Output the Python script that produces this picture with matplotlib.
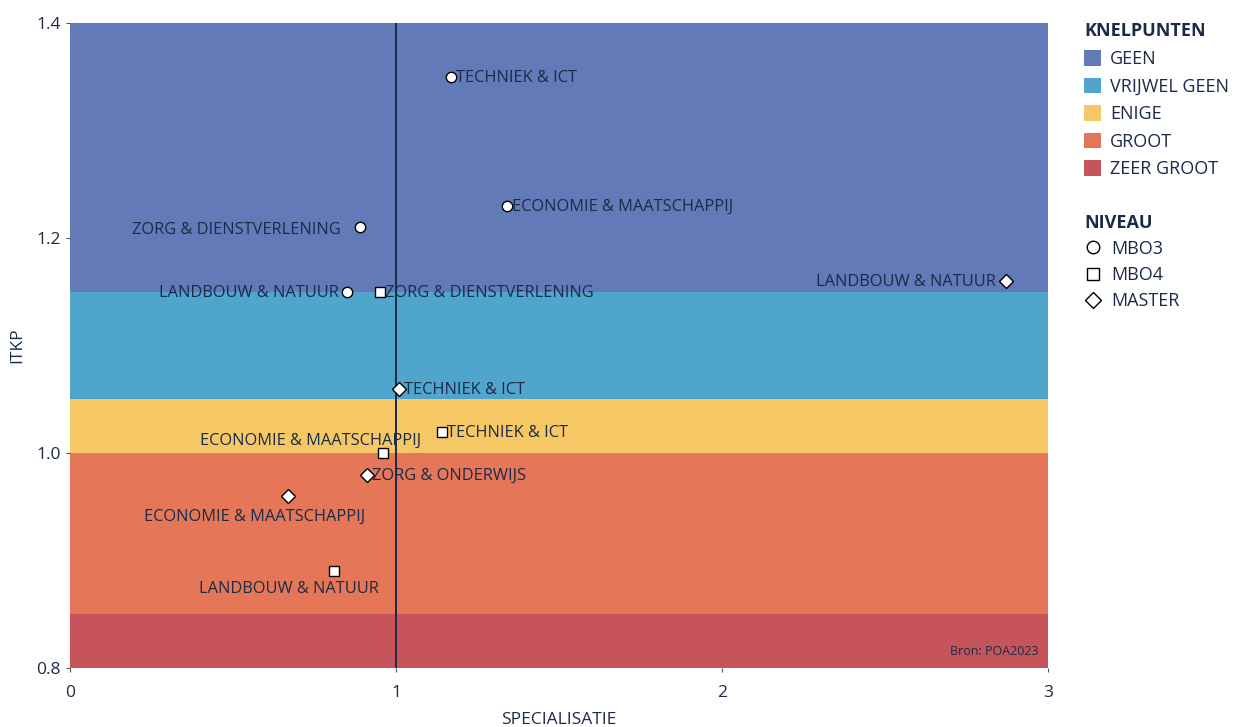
import matplotlib
matplotlib.use("Agg")
import matplotlib.pyplot as plt
from matplotlib.patches import Patch
from matplotlib.lines import Line2D

plt.rcParams["font.family"] = ["Open Sans", "DejaVu Sans"]

NAVY = "#1b2a47"

# knelpunten bands (ITKP ranges)
band_names = ["GEEN", "VRIJWEL GEEN", "ENIGE", "GROOT", "ZEER GROOT"]
band_low = [1.15, 1.05, 1.00, 0.85, 0.80]
band_high = [1.40, 1.15, 1.05, 1.00, 0.85]
band_colors = ["#627bb8", "#4fa5cb", "#f6c865", "#e57758", "#c6545a"]

# points
levels = ["MBO3", "MBO4", "MASTER"]
level_markers = {"MBO3": "o", "MBO4": "s", "MASTER": "D"}

mbo3_labels = ["TECHNIEK & ICT", "ECONOMIE & MAATSCHAPPIJ", "ZORG & DIENSTVERLENING", "LANDBOUW & NATUUR"]
mbo3_x = [1.17, 1.34, 0.89, 0.85]
mbo3_y = [1.35, 1.23, 1.21, 1.15]

mbo4_labels = ["ZORG & DIENSTVERLENING", "ECONOMIE & MAATSCHAPPIJ", "TECHNIEK & ICT", "LANDBOUW & NATUUR"]
mbo4_x = [0.95, 0.96, 1.14, 0.81]
mbo4_y = [1.15, 1.00, 1.02, 0.89]

master_labels = ["LANDBOUW & NATUUR", "TECHNIEK & ICT", "ZORG & ONDERWIJS", "ECONOMIE & MAATSCHAPPIJ"]
master_x = [2.87, 1.01, 0.91, 0.67]
master_y = [1.16, 1.06, 0.98, 0.96]

# label placement: (dx px, dy px, ha)
place = {
    "MBO3": [(5, -1, "left"), (5, -1, "left"), (-19, -3, "right"), (-8, -1, "right")],
    "MBO4": [(5, -1, "left"), (38, 12, "right"), (5, -1, "left"), (-45, -18, "center")],
    "MASTER": [(-10, -1, "right"), (5, -1, "left"), (5, -1, "left"), (-34, -21, "center")],
}

series = {
    "MBO3": (mbo3_x, mbo3_y, mbo3_labels),
    "MBO4": (mbo4_x, mbo4_y, mbo4_labels),
    "MASTER": (master_x, master_y, master_labels),
}
marker_sizes = {"MBO3": 7.5, "MBO4": 6.5, "MASTER": 7}

fig = plt.figure(figsize=(12.35, 7.27), dpi=100)
ax = fig.add_axes([0.0567, 0.0812, 0.792, 0.887])

for lo, hi, c in zip(band_low, band_high, band_colors):
    ax.axhspan(lo, hi, color=c, lw=0, zorder=0)

ax.axvline(1, color=NAVY, lw=1.4, zorder=1)

for lvl in levels:
    xs, ys, labs = series[lvl]
    ax.plot(xs, ys, ls="none", marker=level_markers[lvl], ms=marker_sizes[lvl],
            mfc="white", mec="black", mew=1, zorder=3)
    for (x, y, lab), (dx, dy, ha) in zip(zip(xs, ys, labs), place[lvl]):
        ax.annotate(lab, (x, y), xytext=(dx * 0.72, dy * 0.72), textcoords="offset points",
                    ha=ha, va="center", fontsize=11.8, color=NAVY, zorder=4)

ax.text(0.99, 0.015, "Bron: POA2023", transform=ax.transAxes, ha="right", va="bottom",
        fontsize=9, color=NAVY)

ax.set_xlim(0, 3)
ax.set_ylim(0.8, 1.4)
ax.set_xticks([0, 1, 2, 3])
ax.set_yticks([0.8, 1.0, 1.2, 1.4])
ax.set_yticklabels(["0.8", "1.0", "1.2", "1.4"])
for s in ax.spines.values():
    s.set_visible(False)
ax.tick_params(colors="#555555", labelcolor=NAVY, labelsize=12.5, length=3, width=0.8)
ax.tick_params(axis="x", pad=9)
ax.set_xlabel("SPECIALISATIE", fontsize=12.5, color=NAVY, labelpad=8)
ax.set_ylabel("ITKP", fontsize=12.5, color=NAVY, labelpad=8)

band_handles = [Patch(facecolor=c, edgecolor="none") for c in band_colors]
leg1 = fig.legend(band_handles, band_names, title="KNELPUNTEN", loc="upper left",
                  bbox_to_anchor=(0.872, 0.979), frameon=False, fontsize=13,
                  handlelength=0.95, handleheight=0.95, handletextpad=0.5,
                  labelspacing=0.53, borderaxespad=0, alignment="left",
                  title_fontproperties={"weight": "bold", "size": 13})
for t in leg1.get_texts():
    t.set_color(NAVY)
leg1.get_title().set_color(NAVY)

lvl_handles = [Line2D([], [], ls="none", marker=level_markers[l], ms=9 if l != "MASTER" else 8,
                      mfc="white", mec="black", mew=1) for l in levels]
leg2 = fig.legend(lvl_handles, levels, title="NIVEAU", loc="upper left",
                  bbox_to_anchor=(0.872, 0.716), frameon=False, fontsize=13,
                  handlelength=1.0, handletextpad=0.5, labelspacing=0.45,
                  borderaxespad=0, alignment="left",
                  title_fontproperties={"weight": "bold", "size": 13})
for t in leg2.get_texts():
    t.set_color(NAVY)
leg2.get_title().set_color(NAVY)

fig.savefig("out.png", dpi=100)
